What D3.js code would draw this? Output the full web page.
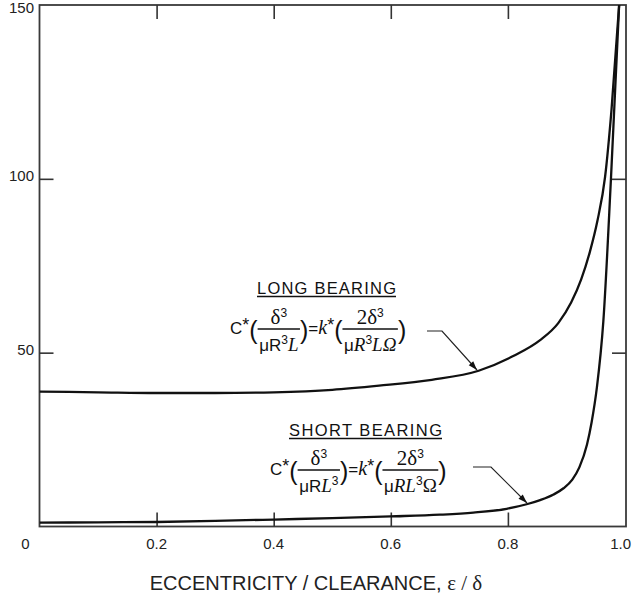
<!DOCTYPE html>
<html><head><meta charset="utf-8">
<script src="https://cdn.jsdelivr.net/npm/d3@7"></script>
<style>
html,body{margin:0;padding:0;background:#fff;}
svg{display:block;}
</style>
</head><body>
<svg id="chart" width="632" height="601"></svg>
<script>
// ---- data ----
const longEcc = [0, 0.1, 0.2, 0.3, 0.4, 0.5, 0.58, 0.67, 0.75, 0.81, 0.855, 0.886, 0.908, 0.925, 0.94, 0.953, 0.966, 0.977, 0.99];
const longC   = [38.8, 38.6, 38.4, 38.4, 38.6, 39.3, 40.5, 42.2, 44.8, 49.1, 53.6, 58.5, 64.4, 71, 79, 88, 100.6, 120, 150];
const shortEcc = [0, 0.1, 0.2, 0.3, 0.4, 0.5, 0.6, 0.684, 0.741, 0.798, 0.832, 0.855, 0.878, 0.895, 0.91, 0.922, 0.935, 0.943, 0.952, 0.963, 0.976, 0.99];
const shortC   = [1.1, 1.2, 1.3, 1.6, 2.0, 2.4, 2.9, 3.4, 4.0, 5.1, 6.4, 7.6, 9.2, 11.0, 13.5, 17, 23.5, 30, 40, 59, 100, 150];
const xTicks = [0, 0.2, 0.4, 0.6, 0.8, 1.0];
const xTickLabels = ["0", "0.2", "0.4", "0.6", "0.8", "1.0"];
const yTicks = [50, 100, 150];
const yTickLabels = ["50", "100", "150"];
const xTitle = "ECCENTRICITY / CLEARANCE, ";
const xTitleSym = "\u03B5 / \u03B4";

const svg = d3.select("#chart");
const L = 39.5, R = 626, T = 5, B = 526.5;
const x = d3.scaleLinear().domain([0, 1]).range([L, 625]);
const y = d3.scaleLinear().domain([0, 150]).range([B, T]);
const sans = "'Liberation Sans', Arial, Helvetica, sans-serif";
const serif = "'Liberation Serif', 'Times New Roman', serif";

// frame
svg.append("rect").attr("x", L).attr("y", T).attr("width", R - L).attr("height", B - T)
  .attr("fill", "none").attr("stroke", "#3a3a3a").attr("stroke-width", 1.8);

// ticks via axes (inner ticks, all four sides)
const tl = 14;
const innerX = [0.2, 0.4, 0.6, 0.8];
const innerY = [50, 100];
const bAx = svg.append("g").attr("transform", `translate(0,${B})`)
  .call(d3.axisTop(x).tickValues(innerX).tickSize(tl).tickFormat(""));
const tAx = svg.append("g").attr("transform", `translate(0,${T})`)
  .call(d3.axisBottom(x).tickValues(innerX).tickSize(tl).tickFormat(""));
const lAx = svg.append("g").attr("transform", `translate(${L},0)`)
  .call(d3.axisRight(y).tickValues(innerY).tickSize(tl).tickFormat(""));
const rAx = svg.append("g").attr("transform", `translate(${R},0)`)
  .call(d3.axisLeft(y).tickValues(innerY).tickSize(tl).tickFormat(""));
[bAx, tAx, lAx, rAx].forEach(a => {
  a.select(".domain").remove();
  a.selectAll("line").attr("stroke", "#333").attr("stroke-width", 1.6);
});

// tick labels
svg.append("g").selectAll("text").data(xTicks).join("text")
  .attr("x", (d, i) => i === 0 ? x(d) - 14 : (i === xTicks.length - 1 ? 631 : x(d)))
  .attr("y", 549)
  .attr("text-anchor", (d, i) => i === xTicks.length - 1 ? "end" : "middle")
  .attr("font-family", sans).attr("font-size", 15).attr("fill", "#222")
  .text((d, i) => xTickLabels[i]);
svg.append("g").selectAll("text").data(yTicks).join("text")
  .attr("x", 34).attr("y", d => y(d) + 5.5 - (d === 150 ? -2.5 : 3))
  .attr("text-anchor", "end")
  .attr("font-family", sans).attr("font-size", 15).attr("fill", "#222")
  .text((d, i) => yTickLabels[i]);

// axis title
const tt = svg.append("text").attr("x", 316).attr("y", 590).attr("text-anchor", "middle")
  .attr("font-family", sans).attr("font-size", 20).attr("fill", "#222");
tt.append("tspan").text(xTitle);
tt.append("tspan").attr("font-family", serif).attr("font-size", 21).text(xTitleSym);

// curves
svg.append("clipPath").attr("id", "clip").append("rect")
  .attr("x", L).attr("y", T).attr("width", R - L).attr("height", B - T);
const line = d3.line().x(d => x(d[0])).y(d => y(d[1])).curve(d3.curveMonotoneX);
const g = svg.append("g").attr("clip-path", "url(#clip)");
g.append("path").datum(longEcc.map((e, i) => [e, longC[i]])).attr("d", line)
  .attr("fill", "none").attr("stroke", "#111").attr("stroke-width", 2.3);
g.append("path").datum(shortEcc.map((e, i) => [e, shortC[i]])).attr("d", line)
  .attr("fill", "none").attr("stroke", "#111").attr("stroke-width", 2.3);

// ---- annotations ----
const FS = 17, SUP = 12;
function rich(parent, parts, px, py, anchor) {
  const t = parent.append("text").attr("x", px).attr("y", py)
    .attr("font-family", sans).attr("font-size", FS).attr("fill", "#111")
    .attr("text-anchor", anchor || "start");
  let shift = 0;
  parts.forEach(p => {
    const s = t.append("tspan").text(p.t);
    if (p.serif) s.attr("font-family", serif);
    if (p.it) s.attr("font-style", "italic");
    if (p.fs) s.attr("font-size", p.fs);
    const want = p.sup ? -7.5 : (p.star ? -3 : 0);
    if (want !== shift) { s.attr("dy", want - shift); shift = want; }
    if (p.sup) s.attr("font-size", SUP);
  });
  return t;
}
function formula(x0, base, den1, den2) {
  const grp = svg.append("g");
  let cx = x0;
  const adv = (el) => { const w = el.node().getComputedTextLength(); cx += w; return w; };
  const paren = (ch) => adv(grp.append("text").attr("x", cx).attr("y", base + 5).attr("font-family", sans)
    .attr("font-size", 25).attr("font-weight", 300).attr("fill", "#111").text(ch));
  adv(rich(grp, [{t: "C"}, {t: "*", star: true, fs: 18}], cx, base));
  paren("(");
  const fr = (num, den) => {
    const n = rich(grp, num, 0, base - 10, "middle");
    const d = rich(grp, den, 0, base + 17, "middle");
    const w = Math.max(n.node().getComputedTextLength(), d.node().getComputedTextLength()) + 3;
    n.attr("x", cx + w / 2); d.attr("x", cx + w / 2);
    grp.append("line").attr("x1", cx).attr("x2", cx + w).attr("y1", base - 5).attr("y2", base - 5)
      .attr("stroke", "#111").attr("stroke-width", 1.5);
    cx += w;
  };
  fr([{t: "\u03B4", serif: true, fs: 21}, {t: "3", sup: true}], den1);
  paren(")");
  adv(rich(grp, [{t: "="}], cx, base));
  adv(rich(grp, [{t: "k", serif: true, it: true, fs: 20}, {t: "*", star: true, fs: 18}], cx, base));
  paren("(");
  fr([{t: "2\u03B4", serif: true, fs: 21}, {t: "3", sup: true}], den2);
  paren(")");
}
function heading(txt, x0, base, w) {
  svg.append("text").attr("x", x0).attr("y", base).attr("font-family", sans)
    .attr("font-size", 16.5).attr("fill", "#111").attr("textLength", w)
    .attr("lengthAdjust", "spacing").text(txt);
  svg.append("line").attr("x1", x0).attr("x2", x0 + w).attr("y1", base + 2.5).attr("y2", base + 2.5)
    .attr("stroke", "#111").attr("stroke-width", 1.5);
}
function leader(pts) {
  const [p0, p1, p2] = pts;
  svg.append("path").attr("d", `M${p0[0]},${p0[1]}L${p1[0]},${p1[1]}L${p2[0]},${p2[1]}`)
    .attr("fill", "none").attr("stroke", "#222").attr("stroke-width", 1.2);
  const ang = Math.atan2(p2[1] - p1[1], p2[0] - p1[0]);
  const len = 9, hw = 3;
  const bx = p2[0] - len * Math.cos(ang), by = p2[1] - len * Math.sin(ang);
  svg.append("path").attr("d",
    `M${p2[0]},${p2[1]}L${bx + hw * Math.sin(ang)},${by - hw * Math.cos(ang)}L${bx - hw * Math.sin(ang)},${by + hw * Math.cos(ang)}Z`)
    .attr("fill", "#111");
}

heading("LONG  BEARING", 257, 294, 139);
formula(230, 334,
  [{t: "\u03BCR"}, {t: "3", sup: true}, {t: "L", serif: true, it: true, fs: 19}],
  [{t: "\u03BC"}, {t: "R", serif: true, it: true, fs: 19}, {t: "3", sup: true}, {t: "L\u03A9", serif: true, it: true, fs: 19}]);
leader([[427, 331], [442, 331], [477, 370]]);

heading("SHORT  BEARING", 289, 436, 153);
formula(270, 475,
  [{t: "\u03BCR"}, {t: "L", serif: true, it: true, fs: 19}, {t: "3", sup: true}],
  [{t: "\u03BC"}, {t: "RL", serif: true, it: true, fs: 19}, {t: "3", sup: true}, {t: "\u03A9", serif: true, fs: 19}]);
leader([[473, 467], [491, 467], [527, 503]]);
</script>
</body></html>
